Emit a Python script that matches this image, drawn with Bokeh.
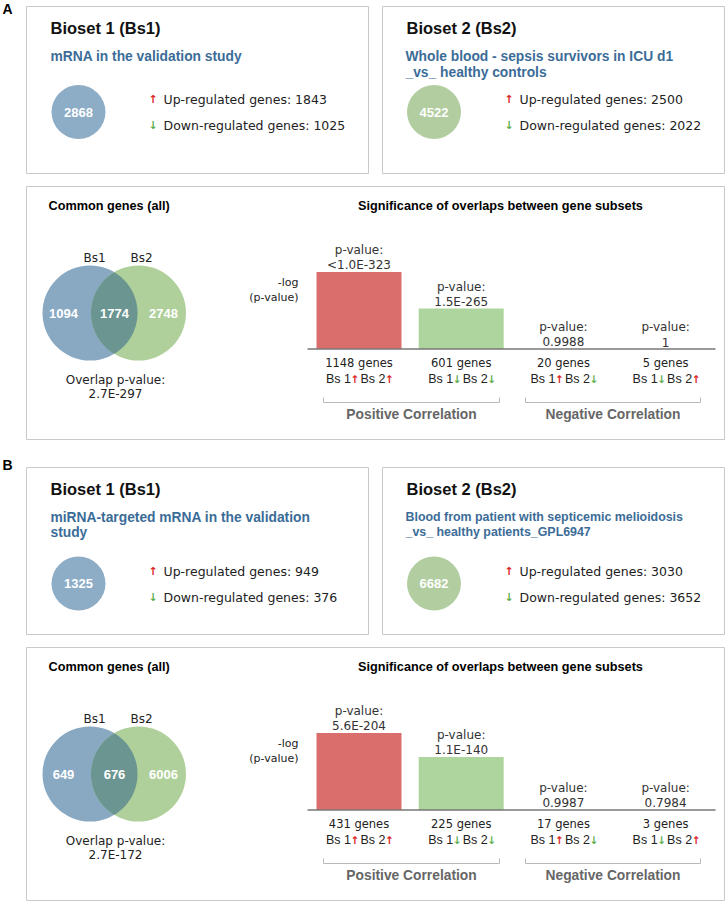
import numpy as np
from bokeh.plotting import figure
from bokeh.models import Range1d
from bokeh.core.properties import value
from bokeh.embed import file_html
from bokeh.resources import INLINE

# ------------------------------------------------------------------ data
panel_labels = ["A", "B"]
bs1_title = "Bioset 1 (Bs1)"
bs2_title = "Bioset 2 (Bs2)"
bs1_desc = [["mRNA in the validation study"],
            ["miRNA-targeted mRNA in the validation", "study"]]
bs2_desc = [["Whole blood - sepsis survivors in ICU d1", "_vs_ healthy controls"],
            ["Blood from patient with septicemic melioidosis", "_vs_ healthy patients_GPL6947"]]
bs1_total = [2868, 1325]
bs1_up = [1843, 949]
bs1_down = [1025, 376]
bs2_total = [4522, 6682]
bs2_up = [2500, 3030]
bs2_down = [2022, 3652]
venn_bs1_only = [1094, 649]
venn_common = [1774, 676]
venn_bs2_only = [2748, 6006]
overlap_pvalue = ["2.7E-297", "2.7E-172"]
subset_genes = [[1148, 601, 20, 5], [431, 225, 17, 3]]
subset_pvalue = [["<1.0E-323", "1.5E-265", "0.9988", "1"],
                 ["5.6E-204", "1.1E-140", "0.9987", "0.7984"]]
subset_neglog10p = [[505.0, 264.8, 0.0005, 0.0],
                    [203.3, 140.0, 0.0006, 0.098]]
subset_bs1_dir = ["up", "down", "up", "down"]
subset_bs2_dir = ["up", "down", "down", "up"]
correlation_groups = ["Positive Correlation", "Negative Correlation"]

# ------------------------------------------------------------------ layout / style
W, H = 726, 902
top_box_y = [6, 467]
top_box_h = 167
low_box_y = [186, 647]
low_box_h = 253
box1_x = (26, 368)
box2_x = (382, 724)
low_x = (26, 724)
label_y = [8, 464]
circle_dy = [105.5, 116]
updown_dy = [92.5, 103.5]
desc1_size = [13.8, 13.8]
desc2_size = [13.8, 12.4]
desc2_step = [16, 15]

BOX_LINE = "#c9c9c9"
SUB_BLUE = "#3b6c98"
UP_RED = "#dd2222"
DOWN_GREEN = "#5fb04c"
CIRC_BLUE = "#8dacc5"
CIRC_GREEN = "#b2cea0"
VENN_BLUE = "#89a9c3"
VENN_GREEN = "#afcf9b"
VENN_MID = "#6a9591"
BAR_COLORS = ["#d96e6c", "#afd59e", "#afd59e", "#afd59e"]
BAR_W = 85
BAR_X0 = 358.5
BAR_STEP = 102.2
BAR_MAXH = 77

p = figure(width=W, height=H, x_range=Range1d(0, W), y_range=Range1d(H, 0),
           output_backend="svg", toolbar_location=None, min_border=0)
p.title.text = ""
p.title.visible = False
p.axis.visible = False
p.grid.visible = False
p.outline_line_color = None
p.background_fill_color = "white"
p.border_fill_color = "white"
p.toolbar.logo = None

SANS = "Liberation Sans"
DJ = "DejaVu Sans"


def T(x, y, s, size, color="#222222", font=DJ, bold=False, align="left",
      baseline="middle", **kw):
    p.text(x=[x], y=[y], text=[s], text_font=value(font),
           text_font_size=f"{size}px", text_color=color, text_align=align,
           text_baseline=baseline, text_font_style="bold" if bold else "normal", **kw)


def box(x0, x1, y0, y1):
    p.quad(left=[x0], right=[x1], top=[y0], bottom=[y1], fill_color=None,
           line_color=BOX_LINE, line_width=1)


def arrow(x, y, d, size=11):
    T(x, y, "\u2191" if d == "up" else "\u2193", size,
      color=UP_RED if d == "up" else DOWN_GREEN, font=DJ, bold=True, align="center")


# extra ranges for the bar charts
extra = {}
for k in range(2):
    vmax = max(subset_neglog10p[k])
    base = low_box_y[k] + 162.5
    span = H * vmax / BAR_MAXH
    e = base * vmax / BAR_MAXH
    extra[f"bars{k}"] = Range1d(start=e - span, end=e)
p.extra_y_ranges = extra

for k in range(2):
    ty = top_box_y[k]
    T(2, label_y[k], panel_labels[k], 14, color="black", font=SANS, bold=True)

    # ---------------- Bioset 1 box
    box(box1_x[0], box1_x[1], ty, ty + top_box_h)
    T(50, ty + 21, bs1_title, 16.5, color="#111111", font=SANS, bold=True)
    for i, line in enumerate(bs1_desc[k]):
        T(50, ty + 49.5 + i * 15.5, line, desc1_size[k], color=SUB_BLUE, font=SANS, bold=True)
    cy = ty + circle_dy[k]
    p.circle(x=[78], y=[cy], radius=27, fill_color=CIRC_BLUE, line_color=None)
    T(78, cy, str(bs1_total[k]), 13, color="white", font=SANS, bold=True, align="center")
    uy = ty + updown_dy[k]
    arrow(152.5, uy, "up")
    T(163, uy, f"Up-regulated genes:  {bs1_up[k]}", 12.5, color="#222222")
    arrow(152.5, uy + 26.5, "down")
    T(163, uy + 26.5, f"Down-regulated genes:  {bs1_down[k]}", 12.5, color="#222222")

    # ---------------- Bioset 2 box
    box(box2_x[0], box2_x[1], ty, ty + top_box_h)
    T(406, ty + 21, bs2_title, 16.5, color="#111111", font=SANS, bold=True)
    for i, line in enumerate(bs2_desc[k]):
        T(405, ty + 49.5 + i * desc2_step[k], line, desc2_size[k], color=SUB_BLUE,
          font=SANS, bold=True)
    p.circle(x=[433.5], y=[cy], radius=27, fill_color=CIRC_GREEN, line_color=None)
    T(433.5, cy, str(bs2_total[k]), 13, color="white", font=SANS, bold=True, align="center")
    arrow(508.5, uy, "up")
    T(519, uy, f"Up-regulated genes:  {bs2_up[k]}", 12.5, color="#222222")
    arrow(508.5, uy + 26.5, "down")
    T(519, uy + 26.5, f"Down-regulated genes:  {bs2_down[k]}", 12.5, color="#222222")

    # ---------------- lower panel
    L = low_box_y[k]
    box(low_x[0], low_x[1], L, L + low_box_h)
    T(48, L + 19, "Common genes  (all)", 12.7, color="black", font=SANS, bold=True)
    T(500, L + 19, "Significance of overlaps between gene subsets", 12.7, color="black",
      font=SANS, bold=True, align="center")

    # Venn
    c1x, c2x, vcy, r = 89.5, 138.0, L + 126.5, 47.5
    p.circle(x=[c1x], y=[vcy], radius=r, fill_color=VENN_BLUE, line_color=None)
    p.circle(x=[c2x], y=[vcy], radius=r, fill_color=VENN_GREEN, line_color=None)
    d = c2x - c1x
    th = np.arccos(d / 2 / r)
    a1 = np.linspace(-th, th, 60)
    a2 = np.linspace(np.pi - th, np.pi + th, 60)
    lx = np.concatenate([c1x + r * np.cos(a1), c2x + r * np.cos(a2)])
    ly = np.concatenate([vcy + r * np.sin(a1), vcy + r * np.sin(a2)])
    p.patch(lx, ly, fill_color=VENN_MID, line_color=None)
    T(94, L + 71, "Bs1", 12, color="#222222", align="center")
    T(141, L + 71, "Bs2", 12, color="#222222", align="center")
    T(63, vcy, str(venn_bs1_only[k]), 13, color="white", font=SANS, bold=True, align="center")
    T(114, vcy, str(venn_common[k]), 13, color="white", font=SANS, bold=True, align="center")
    T(163, vcy, str(venn_bs2_only[k]), 13, color="white", font=SANS, bold=True, align="center")
    T(115, L + 193, "Overlap p-value:", 12, color="#222222", align="center")
    T(115, L + 207.5, overlap_pvalue[k], 12, color="#222222", align="center")

    # bar chart
    T(298, L + 96, "-log", 11, color="#222222", align="right")
    T(298, L + 111, "(p-value)", 11, color="#222222", align="right")
    rn = f"bars{k}"
    xs = [BAR_X0 + i * BAR_STEP for i in range(4)]
    p.vbar(x=xs, top=subset_neglog10p[k], bottom=0, width=BAR_W, fill_color=BAR_COLORS,
           line_color=None, y_range_name=rn)
    base = L + 162.5
    p.segment(x0=[307], x1=[715], y0=[base], y1=[base], line_color="#777777", line_width=1.5)
    p.text(x=xs, y=subset_neglog10p[k], text=subset_pvalue[k], y_range_name=rn,
           y_offset=-7, text_font=value(DJ), text_font_size="12px", text_color="#333333",
           text_align="center", text_baseline="middle")
    p.text(x=xs, y=subset_neglog10p[k], text=["p-value:"] * 4, y_range_name=rn,
           y_offset=-22, text_font=value(DJ), text_font_size="12px", text_color="#333333",
           text_align="center", text_baseline="middle")
    for i, c in enumerate(xs):
        T(c, L + 176, f"{subset_genes[k][i]} genes", 11.5, color="#222222", align="center")
        yb = L + 192.5
        T(c - 8, yb, "Bs 1", 12.5, color="#222222", font=SANS, align="right")
        arrow(c - 4, yb, subset_bs1_dir[i], size=10.5)
        T(c + 26.5, yb, "Bs 2", 12.5, color="#222222", font=SANS, align="right")
        arrow(c + 30.5, yb, subset_bs2_dir[i], size=10.5)

    # correlation brackets
    for g, (gx0, gx1) in enumerate([(323, 499), (525, 700)]):
        by = L + 216
        p.multi_line(xs=[[gx0, gx0, gx1, gx1]], ys=[[by - 5, by, by, by - 5]],
                     line_color="#b8b8b8", line_width=1)
        T((gx0 + gx1) / 2, L + 228, correlation_groups[g], 13.8, color="#666666",
          font=SANS, bold=True, align="center")

open("out.html", "w").write(file_html(p, INLINE))
